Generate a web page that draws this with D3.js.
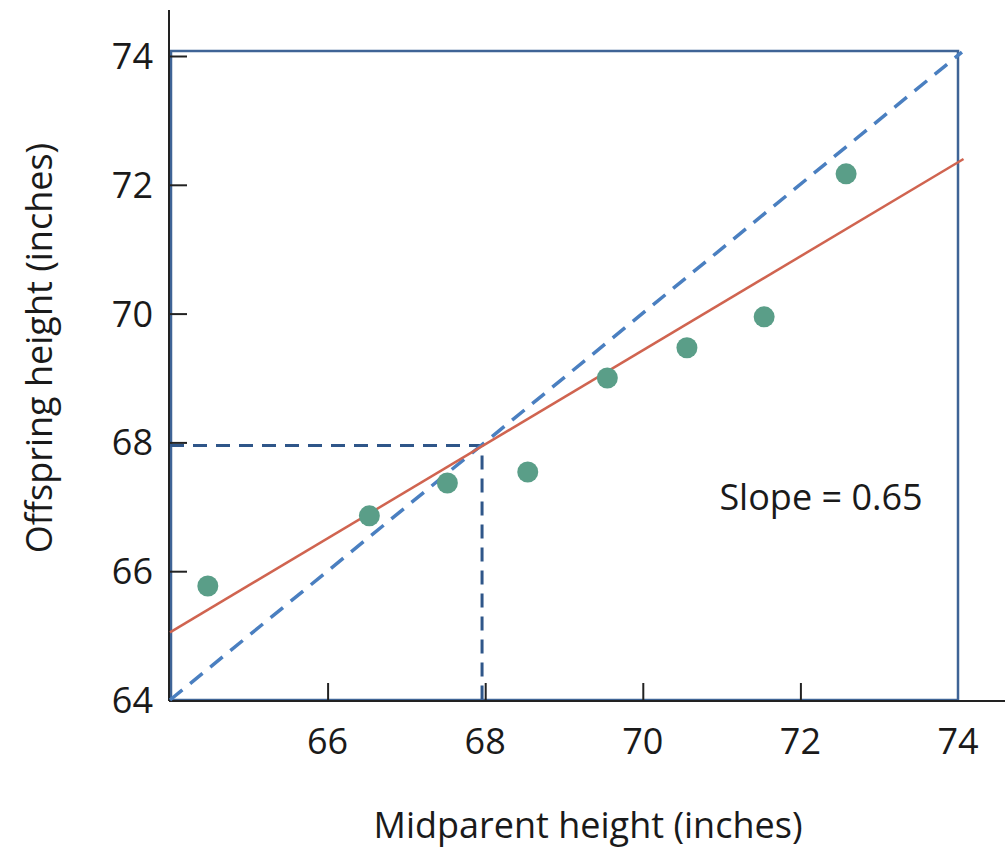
<!DOCTYPE html>
<html>
<head>
<meta charset="UTF-8">
<title>Midparent vs offspring height</title>
<script src="https://cdnjs.cloudflare.com/ajax/libs/d3/7.8.5/d3.min.js"></script>
<style>
  body { margin: 0; background: #fff; }
  svg text { font-family: "Open Sans", "Noto Sans", sans-serif; fill: #1a1a1a; }
</style>
</head>
<body>
<svg id="chart" width="1008" height="848"></svg>
<script>
// data
const midparent = [64.48, 66.53, 67.52, 68.54, 69.55, 70.56, 71.54, 72.58];
const offspring = [65.77, 66.86, 67.37, 67.54, 69.0, 69.47, 69.95, 72.17];
const xTicks = [66, 68, 70, 72, 74];
const yTicks = [64, 66, 68, 70, 72, 74];
const fitLine = [[64, 65.05], [74.07, 72.4]];   // red regression line
const equalLine = [[64, 64], [74.05, 74.06]];   // dashed 1:1 line
const meanX = 67.96, meanY = 67.95;
const slopeLabel = 'Slope = 0.65';

const svg = d3.select('#chart');

const x = d3.scaleLinear().domain([64, 74]).range([170, 958]);
const y = d3.scaleLinear().domain([64, 74]).range([700, 56]);

// box round the plot
svg.append('rect')
  .attr('x', x(64) + 1).attr('y', y(74) - 5)
  .attr('width', x(74) - x(64) - 1).attr('height', y(64) - y(74) + 5)
  .attr('fill', 'none').attr('stroke', '#3f6496').attr('stroke-width', 2.5);

// axis lines (black) on top
svg.append('line').attr('x1', 169).attr('x2', 169).attr('y1', 10).attr('y2', 701)
  .attr('stroke', '#222').attr('stroke-width', 2);
svg.append('line').attr('x1', 169).attr('x2', 1005).attr('y1', 701).attr('y2', 701)
  .attr('stroke', '#222').attr('stroke-width', 2);

// inward ticks
const yAxis = d3.axisRight(y).tickValues(yTicks.filter(d => d > 64)).tickSize(17).tickFormat('');
svg.append('g').attr('transform', 'translate(170,0)').call(yAxis)
  .call(g => g.select('.domain').remove())
  .selectAll('line').attr('stroke', '#222').attr('stroke-width', 2);

const xAxis = d3.axisTop(x).tickValues(xTicks.filter(d => d < 74)).tickSize(17).tickFormat('');
svg.append('g').attr('transform', 'translate(0,700)').call(xAxis)
  .call(g => g.select('.domain').remove())
  .selectAll('line').attr('stroke', '#222').attr('stroke-width', 2);

// tick labels
svg.selectAll('.ylab').data(yTicks).enter().append('text')
  .attr('class', 'ylab')
  .attr('x', 153).attr('y', d => y(d))
  .attr('dy', '0.36em')
  .attr('text-anchor', 'end')
  .attr('font-size', 36)
  .text(d => d);

svg.selectAll('.xlab').data(xTicks).enter().append('text')
  .attr('class', 'xlab')
  .attr('x', d => x(d)).attr('y', 754)
  .attr('text-anchor', 'middle')
  .attr('font-size', 36)
  .text(d => d);

// axis titles
svg.append('text')
  .attr('x', 588).attr('y', 838)
  .attr('text-anchor', 'middle')
  .attr('font-size', 36)
  .text('Midparent height (inches)');

svg.append('text')
  .attr('transform', 'translate(52,348) rotate(-90)')
  .attr('text-anchor', 'middle')
  .attr('font-size', 36)
  .text('Offspring height (inches)');

// dashed lines to the mean
svg.append('path')
  .attr('d', d3.line()([[x(64), y(meanY)], [x(meanX), y(meanY)], [x(meanX), y(64)]]))
  .attr('fill', 'none')
  .attr('stroke', '#2f5689').attr('stroke-width', 3)
  .attr('stroke-dasharray', '14,9');

// dashed 1:1 line
svg.append('path')
  .attr('d', d3.line().x(d => x(d[0])).y(d => y(d[1]))(equalLine))
  .attr('fill', 'none')
  .attr('stroke', '#4a7fc0').attr('stroke-width', 3.5)
  .attr('stroke-dasharray', '16,10');

// regression line
svg.append('path')
  .attr('d', d3.line().x(d => x(d[0])).y(d => y(d[1]))(fitLine))
  .attr('fill', 'none')
  .attr('stroke', '#d06450').attr('stroke-width', 2.5);

// points
svg.selectAll('.dot').data(midparent).enter().append('circle')
  .attr('class', 'dot')
  .attr('cx', d => x(d))
  .attr('cy', (d, i) => y(offspring[i]))
  .attr('r', 10.5)
  .attr('fill', '#5a9e88');

svg.append('text')
  .attr('x', 821).attr('y', 510)
  .attr('text-anchor', 'middle')
  .attr('font-size', 36)
  .text(slopeLabel);
</script>
</body>
</html>
